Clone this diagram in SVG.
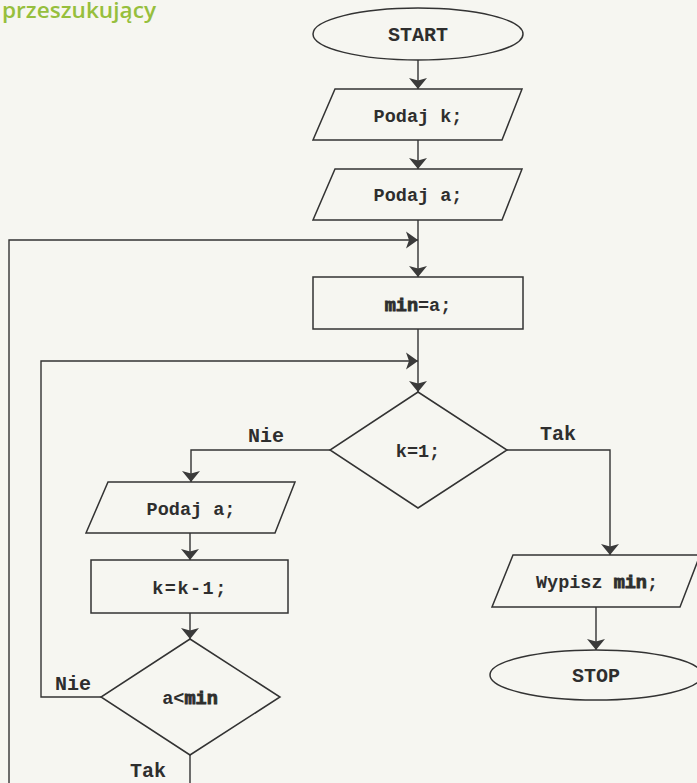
<svg xmlns="http://www.w3.org/2000/svg" xmlns:xlink="http://www.w3.org/1999/xlink" width="697" height="783" viewBox="0 0 697 783">
  <style>
    .shape { fill: none; stroke: #333; stroke-width: 1.5; }
    .wire { fill: none; stroke: #333; stroke-width: 1.4; }
    .head { fill: #3a3a3a; }
    .lbl { font-family: "Liberation Mono", "DejaVu Sans Mono", monospace; font-weight: bold; fill: #2e2e2e; text-anchor: middle; }
    .body { font-size: 18.5px; }
    .big { font-size: 20px; }
    .kw { stroke: #2e2e2e; stroke-width: 0.9; }
    .title { font-family: "Open Sans", "Noto Sans", sans-serif; font-weight: 600; font-size: 21px; fill: #96bf3d; }
  </style>
  <defs>
    <!-- arrowheads with the tip at the origin -->
    <path id="down" class="head" d="M -9 -11 L 0 -8.5 L 9 -11 L 0 0 Z"/>
    <path id="right" class="head" d="M -12 -8.5 L -9 0 L -12 8.5 L 0 0 Z"/>
  </defs>

  <rect width="697" height="783" fill="#f6f6f1"/>

  <text class="title" x="2" y="18" textLength="154" lengthAdjust="spacingAndGlyphs">przeszukujący</text>

  <g id="connectors">
    <line class="wire" x1="418" y1="60" x2="418" y2="89"/>
    <use xlink:href="#down" x="418" y="89"/>
    <line class="wire" x1="418" y1="140" x2="418" y2="169"/>
    <use xlink:href="#down" x="418" y="169"/>
    <line class="wire" x1="418" y1="220" x2="418" y2="277"/>
    <use xlink:href="#down" x="418" y="277"/>
    <!-- outer loop -->
    <polyline class="wire" points="9,783 9,240 418,240"/>
    <use xlink:href="#right" x="418" y="240"/>
    <line class="wire" x1="418" y1="329" x2="418" y2="392"/>
    <use xlink:href="#down" x="418" y="392"/>
    <!-- inner loop from a<min, Nie -->
    <polyline class="wire" points="101,697 41,697 41,361 418,361"/>
    <use xlink:href="#right" x="418" y="361"/>
    <!-- k=1 Nie -->
    <polyline class="wire" points="330,450 191,450 191,482"/>
    <use xlink:href="#down" x="191" y="482"/>
    <!-- k=1 Tak -->
    <polyline class="wire" points="507,450 610,450 610,555"/>
    <use xlink:href="#down" x="610" y="555"/>
    <line class="wire" x1="190" y1="533" x2="190" y2="560"/>
    <use xlink:href="#down" x="190" y="560"/>
    <line class="wire" x1="190" y1="613" x2="190" y2="639"/>
    <use xlink:href="#down" x="190" y="639"/>
    <!-- a<min Tak -->
    <line class="wire" x1="190" y1="755" x2="190" y2="783"/>
    <line class="wire" x1="596" y1="607" x2="596" y2="650"/>
    <use xlink:href="#down" x="596" y="650"/>
    <text class="lbl big" x="266" y="442">Nie</text>
    <text class="lbl big" x="558" y="440">Tak</text>
    <text class="lbl big" x="73" y="690">Nie</text>
    <text class="lbl big" x="148" y="777">Tak</text>
  </g>

  <g id="start">
    <ellipse class="shape" cx="418" cy="34" rx="105" ry="26"/>
    <text class="lbl big" x="418" y="41">START</text>
  </g>

  <g id="read-k">
    <polygon class="shape" points="335,89 522,89 502,140 313,140"/>
    <text class="lbl body" x="418" y="122">Podaj k;</text>
  </g>

  <g id="read-a">
    <polygon class="shape" points="335,169 522,169 502,220 313,220"/>
    <text class="lbl body" x="418" y="201">Podaj a;</text>
  </g>

  <g id="init-min">
    <rect class="shape" x="313" y="277" width="210" height="52"/>
    <text class="lbl body" x="418" y="311"><tspan class="kw">min</tspan>=a;</text>
  </g>

  <g id="test-k">
    <polygon class="shape" points="418,392 507,450 418,508 330,450"/>
    <text class="lbl body" x="418" y="457">k=1;</text>
  </g>

  <g id="read-next">
    <polygon class="shape" points="108,482 295,482 275,533 86,533"/>
    <text class="lbl body" x="191" y="515">Podaj a;</text>
  </g>

  <g id="dec-k">
    <rect class="shape" x="91" y="560" width="197" height="53"/>
    <text class="lbl body" x="190" y="594" letter-spacing="1.5">k=k-1;</text>
  </g>

  <g id="test-min">
    <polygon class="shape" points="190,639 280,697 190,755 101,697"/>
    <text class="lbl body" x="190" y="704">a&lt;<tspan class="kw">min</tspan></text>
  </g>

  <g id="print-min">
    <polygon class="shape" points="513,555 700,555 680,607 492,607"/>
    <text class="lbl body" x="597" y="588">Wypisz <tspan class="kw">min</tspan>;</text>
  </g>

  <g id="stop">
    <ellipse class="shape" cx="596" cy="675" rx="106" ry="25"/>
    <text class="lbl big" x="596" y="682">STOP</text>
  </g>
</svg>
